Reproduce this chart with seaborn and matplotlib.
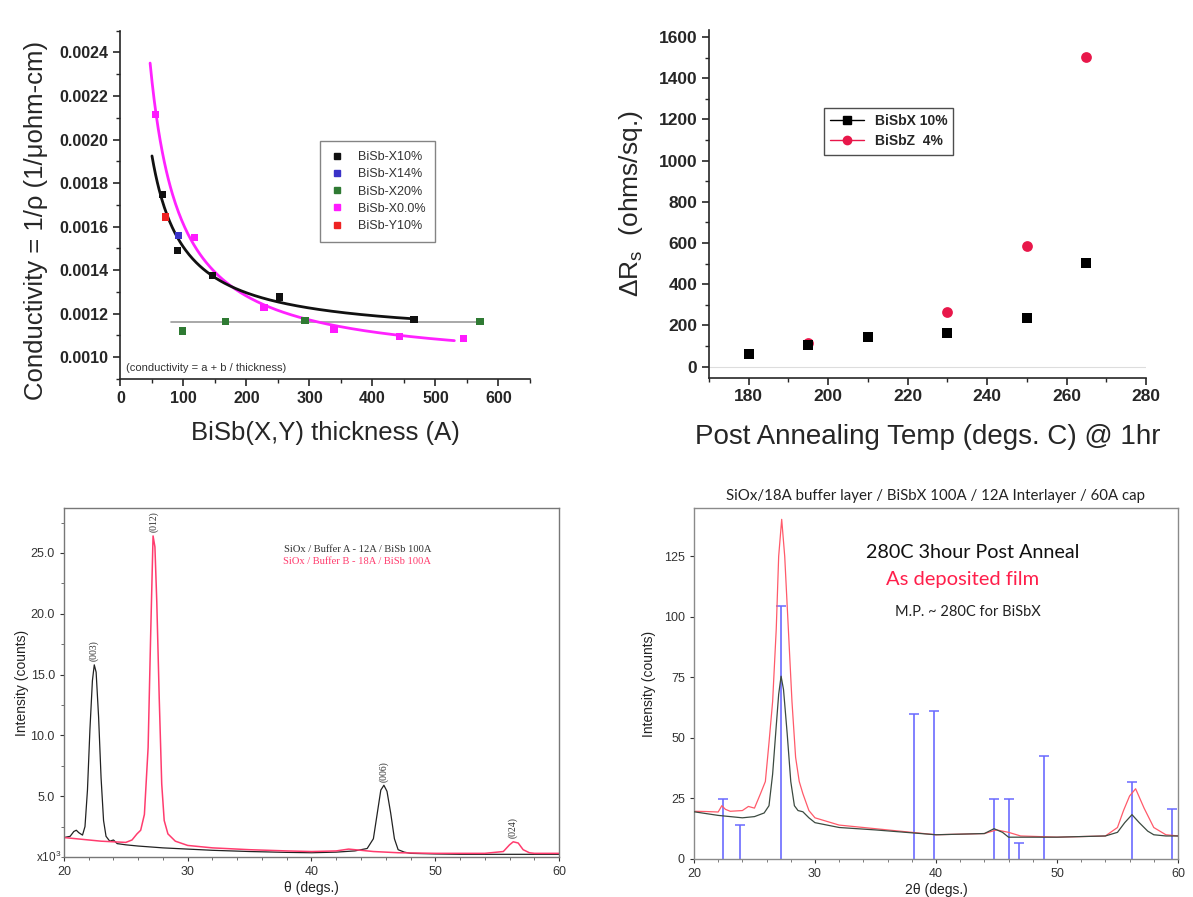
import numpy as np
import pandas as pd
import matplotlib
matplotlib.use("Agg")
import matplotlib.pyplot as plt
from matplotlib.lines import Line2D
from matplotlib.ticker import MultipleLocator, FormatStrFormatter
import seaborn as sns

# ---------------- conductivity vs thickness ----------------
x10_thk = [67, 91, 146, 252, 466]
x10_cond = [0.001747, 0.001491, 0.001374, 0.001276, 0.001173]
x14_thk = [92]
x14_cond = [0.00156]
x20_thk = [98, 167, 293, 571]
x20_cond = [0.00112, 0.001164, 0.001169, 0.001164]
x00_thk = [56, 117, 228, 339, 443, 545]
x00_cond = [0.002115, 0.00155, 0.001227, 0.001126, 0.001095, 0.001087]
y10_thk = [71]
y10_cond = [0.001644]
cond_series = ["BiSb-X10%", "BiSb-X14%", "BiSb-X20%", "BiSb-X0.0%", "BiSb-Y10%"]
cond_colors = ["#111111", "#3a32c8", "#2f7a33", "#ff1aff", "#ee2222"]

# ---------------- delta Rs vs anneal temperature ----------------
temp_x = [180, 195, 210, 230, 250, 265]
drs_x = [62, 103, 146, 165, 238, 505]
temp_z = [195, 230, 250, 265]
drs_z = [117, 265, 586, 1505]

# ---------------- XRD theta scans (x10^3 counts) ----------------
thA = [20.0, 20.5, 20.8, 21.0, 21.2, 21.5, 21.7, 21.9, 22.1, 22.3, 22.45, 22.6,
       22.8, 23.0, 23.2, 23.4, 23.7, 24.0, 24.3, 25.0, 26.0, 28.0, 30.0, 32.0,
       35.0, 38.0, 40.0, 42.0, 43.5, 44.5, 45.0, 45.3, 45.6, 45.85, 46.1, 46.4,
       46.7, 47.0, 47.5, 48.0, 50.0, 52.0, 56.0, 60.0]
intA = [1.6, 1.7, 2.1, 2.2, 2.0, 1.8, 2.5, 5.5, 10.5, 14.5, 15.8, 15.2,
        11.5, 6.5, 3.0, 1.7, 1.3, 1.4, 1.1, 1.0, 0.9, 0.75, 0.65, 0.55,
        0.45, 0.38, 0.35, 0.4, 0.5, 0.7, 1.5, 3.5, 5.5, 5.9, 5.4, 3.6,
        1.5, 0.6, 0.4, 0.3, 0.25, 0.22, 0.22, 0.22]
thB = [20.0, 21.0, 22.0, 23.0, 24.0, 25.0, 25.5, 25.9, 26.2, 26.5, 26.8, 27.0,
       27.2, 27.35, 27.5, 27.7, 27.9, 28.1, 28.4, 28.7, 29.0, 30.0, 32.0, 35.0,
       38.0, 40.0, 42.0, 43.0, 44.0, 45.0, 47.0, 50.0, 54.0, 55.5, 56.0, 56.3,
       56.7, 57.1, 57.6, 58.0, 60.0]
intB = [1.6, 1.5, 1.4, 1.3, 1.25, 1.2, 1.4, 1.9, 2.2, 3.5, 9.0, 18.0,
        26.4, 25.5, 21.0, 13.0, 6.0, 3.0, 1.9, 1.6, 1.3, 0.95, 0.75, 0.6,
        0.5, 0.45, 0.5, 0.65, 0.55, 0.45, 0.35, 0.3, 0.3, 0.45, 1.0, 1.25,
        1.15, 0.6, 0.35, 0.3, 0.3]
peak_labels = ["(003)", "(012)", "(006)", "(024)"]
peak_pos = [22.45, 27.25, 45.85, 56.3]
peak_top = [15.8, 26.4, 5.9, 1.25]

# ---------------- XRD 2theta scans (counts) ----------------
tt_dep = [20.0, 21.0, 22.0, 22.3, 22.6, 23.0, 24.0, 24.5, 25.0, 25.5, 25.9, 26.2,
          26.5, 26.8, 27.0, 27.25, 27.5, 27.8, 28.1, 28.4, 28.7, 29.0, 29.5,
          30.0, 32.0, 35.0, 40.0, 44.0, 45.0, 46.0, 47.0, 50.0, 54.0, 55.0,
          55.5, 56.0, 56.5, 57.2, 58.0, 59.0, 60.0]
int_dep = [19.7, 19.6, 19.4, 22.0, 20.5, 19.7, 20.0, 21.7, 21.0, 27.0, 32.0, 48.0,
           65.0, 95.0, 125.0, 140.3, 125.0, 95.0, 65.0, 42.0, 32.0, 27.0, 20.0,
           17.0, 14.0, 12.5, 10.0, 10.5, 12.0, 11.0, 9.5, 9.0, 9.5, 13.0,
           20.0, 26.0, 29.0, 21.0, 13.0, 10.0, 9.5]
tt_ann = [20.0, 22.0, 23.0, 24.0, 25.0, 25.8, 26.2, 26.5, 26.8, 27.0, 27.2, 27.4,
          27.7, 28.0, 28.3, 28.6, 29.0, 29.5, 30.0, 32.0, 35.0, 40.0,
          44.0, 44.8, 45.5, 46.0, 50.0, 54.0, 55.0, 55.6, 56.2, 56.8, 57.5,
          58.0, 59.0, 60.0]
int_ann = [19.5, 18.0, 17.5, 17.0, 17.5, 19.0, 22.0, 35.0, 55.0, 68.0, 75.5, 70.0,
           52.0, 32.0, 22.0, 20.0, 19.5, 17.0, 15.0, 13.0, 12.0, 10.0,
           10.5, 12.5, 11.0, 9.0, 9.0, 9.5, 11.0, 15.0, 18.3, 15.0, 11.5,
           10.0, 9.5, 9.5]
ref_pos = [22.4, 23.8, 27.2, 38.2, 39.8, 44.8, 46.0, 46.9, 48.9, 56.2, 59.5]
ref_int = [24.9, 14.0, 104.5, 59.7, 61.0, 24.9, 24.9, 6.4, 42.6, 31.7, 20.8]

sns.set_theme(style="ticks")
plt.rcParams["font.family"] = ["Liberation Sans", "DejaVu Sans"]
plt.rcParams["mathtext.fontset"] = "custom"
plt.rcParams["mathtext.rm"] = "Liberation Sans"
plt.rcParams["axes.linewidth"] = 1.2

fig = plt.figure(figsize=(11.93, 8.97), dpi=100)
fig.patch.set_facecolor("white")

# ======== panel 1: conductivity ========
ax1 = fig.add_axes([0.101, 0.5775, 0.3432, 0.3883])
frames = []
for name, xs, ys in zip(cond_series,
                        [x10_thk, x14_thk, x20_thk, x00_thk, y10_thk],
                        [x10_cond, x14_cond, x20_cond, x00_cond, y10_cond]):
    frames.append(pd.DataFrame({"thickness": xs, "conductivity": ys, "series": name}))
cond_df = pd.concat(frames, ignore_index=True)


def fit_curve(xs, ys, lo, hi):
    u = 1.0 / np.asarray(xs, float)
    A = np.column_stack([np.ones_like(u), u])
    (a, b), *_ = np.linalg.lstsq(A, np.asarray(ys, float), rcond=None)
    t = np.linspace(lo, hi, 300)
    return t, a + b / t


t_b, c_b = fit_curve(x10_thk, x10_cond, 50, 470)
t_m, c_m = fit_curve(x00_thk, x00_cond, 47, 530)
sns.lineplot(x=t_m, y=c_m, color="#ff22ff", lw=2.0, ax=ax1, zorder=2)
sns.lineplot(x=t_b, y=c_b, color="#111111", lw=2.0, ax=ax1, zorder=2)
ax1.plot([80, 570], [np.mean(x20_cond) + 0.000009] * 2, color="#9a9a9a", lw=1.2, zorder=1)
sns.scatterplot(data=cond_df, x="thickness", y="conductivity", hue="series",
                hue_order=cond_series, palette=cond_colors, marker="s", s=28,
                linewidth=0, legend=False, ax=ax1, zorder=3)
ax1.set_xlim(0, 650)
ax1.set_ylim(0.0009, 0.0025)
ax1.xaxis.set_major_locator(MultipleLocator(100))
ax1.xaxis.set_minor_locator(MultipleLocator(50))
ax1.yaxis.set_minor_locator(MultipleLocator(0.0001))
ax1.yaxis.set_major_formatter(FormatStrFormatter("%.4f"))
ax1.set_yticks([0.0010, 0.0012, 0.0014, 0.0016, 0.0018, 0.0020, 0.0022, 0.0024])
for s in ["top", "right"]:
    ax1.spines[s].set_visible(False)
ax1.tick_params(which="major", direction="out", length=5, width=1.2, labelsize=11.5)
ax1.tick_params(which="minor", direction="out", length=3, width=1.0)
for lab in ax1.get_xticklabels() + ax1.get_yticklabels():
    lab.set_fontweight("bold")
ax1.set_xlabel("BiSb(X,Y) thickness (A)", fontsize=18.5, labelpad=11)
ax1.set_ylabel("Conductivity = 1/ρ (1/μohm-cm)", fontsize=18.5, labelpad=6)
ax1.yaxis.set_label_coords(-0.177, 0.455)
ax1.text(0.013, 0.032, "(conductivity = a + b / thickness)", transform=ax1.transAxes,
         fontsize=8, color="#333333", va="center")
h1 = [Line2D([], [], ls="none", marker="s", ms=4, color=c, mec=c) for c in cond_colors]
leg1 = ax1.legend(h1, cond_series, loc="upper left", bbox_to_anchor=(0.488, 0.683),
                  frameon=True, fancybox=False, fontsize=9, handlelength=1.0,
                  labelspacing=0.42, borderpad=0.8, handletextpad=1.2, borderaxespad=0)
leg1.get_frame().set_edgecolor("#666666")
leg1.get_frame().set_linewidth(1.0)
for t in leg1.get_texts():
    t.set_color("#333333")

# ======== panel 2: delta Rs ========
ax2 = fig.add_axes([0.5943, 0.579, 0.3663, 0.3876])
ax2.axhline(0, color="#dddddd", lw=0.8, zorder=0)
sns.scatterplot(x=temp_x, y=drs_x, marker="s", s=55, color="#000000", linewidth=0,
                ax=ax2, zorder=3)
sns.scatterplot(x=temp_z, y=drs_z, marker="o", s=60, color="#e8174a", linewidth=0,
                ax=ax2, zorder=2)
ax2.set_xlim(170, 280)
ax2.set_ylim(-53, 1634)
ax2.xaxis.set_major_locator(MultipleLocator(20))
ax2.xaxis.set_minor_locator(MultipleLocator(10))
ax2.yaxis.set_major_locator(MultipleLocator(200))
ax2.yaxis.set_minor_locator(MultipleLocator(100))
for s in ["top", "right"]:
    ax2.spines[s].set_visible(False)
ax2.tick_params(which="major", direction="out", length=5, width=1.2, labelsize=12.5)
ax2.tick_params(which="minor", direction="out", length=3, width=1.0)
for lab in ax2.get_xticklabels() + ax2.get_yticklabels():
    lab.set_fontweight("bold")
ax2.set_xlabel("Post Annealing Temp (degs. C) @ 1hr", fontsize=20, labelpad=14)
ax2.set_ylabel("ΔR$_\\mathregular{s}$  (ohms/sq.)", fontsize=19, labelpad=10)
h2 = [Line2D([], [], color="#000000", lw=1.0, marker="s", ms=6),
      Line2D([], [], color="#e8174a", lw=1.0, marker="o", ms=6)]
leg2 = ax2.legend(h2, ["BiSbX 10%", "BiSbZ  4%"], loc="upper left",
                  bbox_to_anchor=(0.263, 0.776), frameon=True, fancybox=False,
                  prop={"size": 10, "weight": "bold"}, handlelength=2.4,
                  borderaxespad=0, borderpad=0.45, labelspacing=0.45)
leg2.get_frame().set_edgecolor("#222222")
leg2.get_frame().set_linewidth(1.0)

# ======== panel 3: theta scan ========
ax3 = fig.add_axes([0.0536, 0.0446, 0.415, 0.3891])
sns.lineplot(x=thA, y=intA, sort=False, estimator=None, color="#222222", lw=0.9, ax=ax3)
sns.lineplot(x=thB, y=intB, sort=False, estimator=None, color="#ff3c6e", lw=1.1, ax=ax3)
ax3.set_xlim(20, 60)
ax3.set_ylim(0, 28.7)
ax3.xaxis.set_major_locator(MultipleLocator(10))
ax3.xaxis.set_minor_locator(MultipleLocator(2))
ax3.set_yticks([5, 10, 15, 20, 25])
ax3.yaxis.set_minor_locator(MultipleLocator(2.5))
ax3.yaxis.set_major_formatter(FormatStrFormatter("%.1f"))
for s in ax3.spines.values():
    s.set_color("#777777")
    s.set_linewidth(1.0)
ax3.tick_params(which="major", direction="out", length=3, width=0.8, labelsize=9,
                colors="#333333")
ax3.tick_params(which="minor", direction="out", length=2, width=0.6, colors="#555555")
ax3.text(-0.005, 0.0, "x10$^3$", transform=ax3.transAxes, ha="right", va="center",
         fontsize=8.5, color="#333333")
ax3.set_xlabel("θ (degs.)", fontsize=10, labelpad=2, color="#222222")
ax3.set_ylabel("Intensity (counts)", fontsize=10, labelpad=1, color="#222222")
serif = ["Liberation Serif", "DejaVu Serif"]
for lab, px, py in zip(peak_labels, peak_pos, peak_top):
    ax3.text(px, py + 0.3, lab, rotation=90, ha="center", va="bottom", fontsize=7,
             family=serif, color="#333333")
ax3.text(43.7, 25.3, "SiOx / Buffer A - 12A / BiSb 100A", ha="center", va="center",
         fontsize=7.6, family=serif, color="#333333")
ax3.text(43.7, 24.3, "SiOx / Buffer B - 18A / BiSb 100A", ha="center", va="center",
         fontsize=7.6, family=serif, color="#ff3c6e")

# ======== panel 4: 2theta scan ========
ax4 = fig.add_axes([0.5817, 0.0424, 0.4057, 0.3913])
ax4.vlines(ref_pos, 0, ref_int, color="#6a6aff", lw=1.4, alpha=0.85, zorder=1)
ax4.plot(ref_pos, ref_int, ls="none", marker="_", ms=7, mew=1.3, color="#6a6aff",
         alpha=0.85, zorder=1)
sns.lineplot(x=tt_ann, y=int_ann, sort=False, estimator=None, color="#3c4a40", lw=0.9,
             ax=ax4, zorder=3)
sns.lineplot(x=tt_dep, y=int_dep, sort=False, estimator=None, color="#ff5a6a", lw=0.9,
             ax=ax4, zorder=2)
ax4.set_xlim(20, 60)
ax4.set_ylim(0, 145)
ax4.xaxis.set_major_locator(MultipleLocator(10))
ax4.xaxis.set_minor_locator(MultipleLocator(2))
ax4.yaxis.set_major_locator(MultipleLocator(25))
for s in ax4.spines.values():
    s.set_color("#8a8a8a")
    s.set_linewidth(1.0)
ax4.tick_params(which="major", direction="out", length=3, width=0.8, labelsize=9,
                colors="#333333")
ax4.tick_params(which="minor", direction="out", length=2, width=0.6, colors="#666666")
ax4.set_xlabel("2θ (degs.)", fontsize=10, labelpad=2, color="#222222")
ax4.set_ylabel("Intensity (counts)", fontsize=10, labelpad=6, color="#222222")
sans2 = ["Lato", "DejaVu Sans"]
ax4.set_title("SiOx/18A buffer layer / BiSbX 100A / 12A Interlayer / 60A cap",
              fontsize=10.8, family=sans2, color="#222222", pad=6)
ax4.text(0.575, 0.872, "280C 3hour Post Anneal", transform=ax4.transAxes, ha="center",
         va="center", fontsize=14.2, family=sans2, color="#111111")
ax4.text(0.555, 0.795, "As deposited film", transform=ax4.transAxes, ha="center",
         va="center", fontsize=14.5, family=sans2, color="#ff1f4b")
ax4.text(0.565, 0.705, "M.P. ~ 280C for BiSbX", transform=ax4.transAxes, ha="center",
         va="center", fontsize=10.5, family=sans2, color="#222222")

fig.savefig("out.png", dpi=100, facecolor="white")
